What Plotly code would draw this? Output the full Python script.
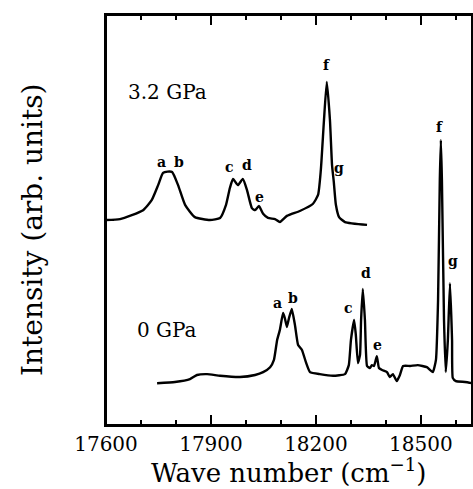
import plotly.graph_objects as go

# 3.2 GPa spectrum (wave number, intensity arb.)
wn_32 = [17600, 17640, 17706, 17731, 17749, 17763, 17776, 17789, 17806, 17826, 17854, 17897,
         17926, 17943, 17954, 17963, 17977, 17991, 18003, 18017, 18026, 18037, 18049, 18063,
         18083, 18097, 18117, 18154, 18191, 18206, 18214, 18223, 18231, 18240, 18246, 18251,
         18257, 18266, 18283, 18346]
int_32 = [5.00, 5.02, 5.24, 5.49, 5.85, 6.15, 6.18, 6.17, 5.85, 5.37, 5.07, 5.00,
          5.05, 5.37, 5.78, 6.00, 5.85, 6.00, 5.73, 5.29, 5.24, 5.34, 5.15, 5.05,
          5.02, 4.95, 5.10, 5.22, 5.39, 5.61, 6.22, 7.44, 8.37, 7.44, 6.34, 5.93,
          5.37, 5.07, 4.95, 4.88]

# 0 GPa spectrum
wn_0 = [17746, 17797, 17840, 17860, 17889, 17926, 17983, 18026, 18049, 18069, 18080, 18089,
        18097, 18106, 18111, 18117, 18123, 18131, 18140, 18149, 18160, 18171, 18183, 18211,
        18249, 18283, 18294, 18300, 18309, 18314, 18320, 18326, 18329, 18334, 18340, 18346,
        18354, 18360, 18366, 18374, 18380, 18389, 18403, 18411, 18420, 18431, 18440, 18449,
        18469, 18491, 18517, 18534, 18543, 18549, 18554, 18557, 18560, 18566, 18571, 18577,
        18583, 18589, 18591, 18600, 18626, 18646]
int_0 = [1.02, 1.05, 1.12, 1.22, 1.24, 1.20, 1.17, 1.22, 1.29, 1.41, 1.59, 2.07,
         2.32, 2.73, 2.61, 2.39, 2.61, 2.83, 2.44, 1.95, 1.83, 1.54, 1.29, 1.24,
         1.20, 1.24, 1.46, 2.07, 2.56, 2.20, 1.51, 1.71, 2.56, 3.32, 2.56, 1.44,
         1.39, 1.46, 1.44, 1.68, 1.39, 1.34, 1.29, 1.17, 1.24, 1.07, 1.22, 1.44,
         1.44, 1.46, 1.41, 1.29, 1.59, 3.05, 5.98, 6.95, 5.98, 2.56, 1.29, 2.07,
         3.46, 2.07, 1.15, 1.07, 1.05, 1.02]

# peak labels
lab_32 = ["a", "b", "c", "d", "e", "f", "g"]
lab_32_x = [17760, 17808, 17954, 18003, 18040, 18231, 18266]
lab_32_y = [6.42, 6.42, 6.30, 6.35, 5.56, 8.78, 6.27]

lab_0 = ["a", "b", "c", "d", "e", "f", "g"]
lab_0_x = [18089, 18134, 18294, 18343, 18377, 18554, 18591]
lab_0_y = [2.98, 3.10, 2.85, 3.70, 1.95, 7.27, 4.00]

pressures = ["3.2 GPa", "0 GPa"]
pres_x = [17777, 17775]
pres_y = [8.12, 2.32]

x_ticks = [17600, 17900, 18200, 18500]

serif = "DejaVu Serif"

fig = go.Figure()
fig.add_trace(go.Scatter(x=wn_32, y=int_32, mode="lines",
                         line=dict(color="black", width=2.4, shape="spline", smoothing=0.5),
                         showlegend=False))
fig.add_trace(go.Scatter(x=wn_0, y=int_0, mode="lines",
                         line=dict(color="black", width=2.4, shape="spline", smoothing=0.4),
                         showlegend=False))

for t, x, y in zip(lab_32 + lab_0, lab_32_x + lab_0_x, lab_32_y + lab_0_y):
    fig.add_annotation(x=x, y=y, text="<b>" + t + "</b>", showarrow=False,
                       font=dict(family=serif, size=14, color="black"))
for t, x, y in zip(pressures, pres_x, pres_y):
    fig.add_annotation(x=x, y=y, text=t, showarrow=False,
                       font=dict(family=serif, size=20, color="black"))

# axis titles as paper annotations
fig.add_annotation(xref="paper", yref="paper", x=0.5, y=-0.112, yanchor="middle",
                   text="Wave number (cm<sup>−1</sup>)", showarrow=False,
                   font=dict(family=serif, size=26, color="black"))
fig.add_annotation(xref="paper", yref="paper", x=-0.199, y=0.476, xanchor="center",
                   yanchor="middle", textangle=-90,
                   text="Intensity (arb. units)", showarrow=False,
                   font=dict(family=serif, size=28, color="black"))

# frame
fig.add_shape(type="rect", xref="paper", yref="paper", x0=0, y0=0, x1=1, y1=1,
              line=dict(color="black", width=2), layer="above")

fig.update_layout(
    width=473, height=489,
    margin=dict(l=106, r=1, t=15, b=64),
    plot_bgcolor="white", paper_bgcolor="white",
    font=dict(family=serif, color="black"),
    xaxis=dict(range=[17600, 18646], tickvals=x_ticks, tickformat="d", ticks="inside",
               ticklen=10, tickwidth=2, tickcolor="black", showline=True, linecolor="black",
               linewidth=2, mirror="ticks", showgrid=False, zeroline=False, automargin=False,
               tickfont=dict(family=serif, size=20, color="black"),
               minor=dict(dtick=100, tick0=17600, ticks="inside", ticklen=5,
                          tickwidth=2, tickcolor="black", showgrid=False)),
    yaxis=dict(range=[0, 10], tickvals=[5], showticklabels=False, ticks="inside", ticklen=8,
               tickwidth=2, tickcolor="black", showline=True, linecolor="black",
               linewidth=2, mirror=True, showgrid=False, zeroline=False, automargin=False),
)

# remove the default 8 px page margin so the 473x489 figure fills the window exactly
fig.write_html("out.html", config={"displayModeBar": False},
               post_script="document.body.style.margin='0';document.body.style.overflow='hidden';")
